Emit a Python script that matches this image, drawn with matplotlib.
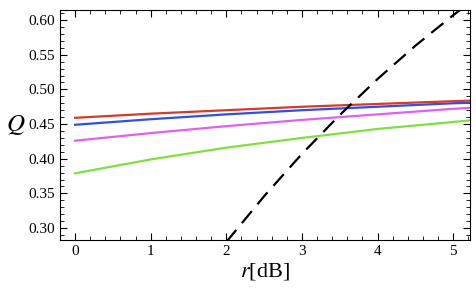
import numpy as np
import matplotlib.pyplot as plt
from matplotlib.ticker import MultipleLocator

plt.rcParams['font.family'] = ['Liberation Serif', 'DejaVu Serif']
plt.rcParams['mathtext.fontset'] = 'stix'

r = [0, 1, 2, 3, 4, 5, 5.3]
q_red = [0.459, 0.465, 0.470, 0.475, 0.479, 0.483, 0.484]
q_blue = [0.449, 0.457, 0.464, 0.470, 0.475, 0.480, 0.481]
q_magenta = [0.426, 0.437, 0.447, 0.456, 0.464, 0.472, 0.474]
q_green = [0.379, 0.399, 0.416, 0.430, 0.443, 0.453, 0.456]

r_dash = [2.0, 2.5, 3.0, 3.5, 4.0, 4.5, 5.0, 5.3]
q_dash = [0.280, 0.346, 0.407, 0.463, 0.515, 0.563, 0.607, 0.632]

fig = plt.figure(figsize=(4.76, 2.95), dpi=100)
ax = fig.add_axes([0.126, 0.186, 0.861, 0.780])

ax.plot(r, q_green, color='#80e040', lw=1.6)
ax.plot(r, q_magenta, color='#e060f0', lw=1.6)
ax.plot(r, q_blue, color='#3050e0', lw=1.6)
ax.plot(r, q_red, color='#d63a2a', lw=1.6)
ax.plot(r_dash, q_dash, color='black', lw=1.6, dashes=(7, 4))

ax.set_xlim(-0.2, 5.22)
ax.set_ylim(0.2826, 0.6145)
ax.set_yticks([0.30, 0.35, 0.40, 0.45, 0.50, 0.55, 0.60])
ax.set_yticklabels(['0.30', '0.35', '0.40', '0.45', '0.50', '0.55', '0.60'])
ax.xaxis.set_minor_locator(MultipleLocator(0.2))
ax.yaxis.set_minor_locator(MultipleLocator(0.01))
ax.tick_params(which='both', direction='in', top=True, right=True, labelsize=11)
ax.tick_params(which='major', length=5)
ax.tick_params(which='minor', length=3)

ax.set_xlabel(r'$r$[dB]', fontsize=16, labelpad=2)
ax.set_ylabel(r'$Q$', fontsize=18, rotation=0, labelpad=9, va='center')

plt.savefig('out.png', dpi=100)
